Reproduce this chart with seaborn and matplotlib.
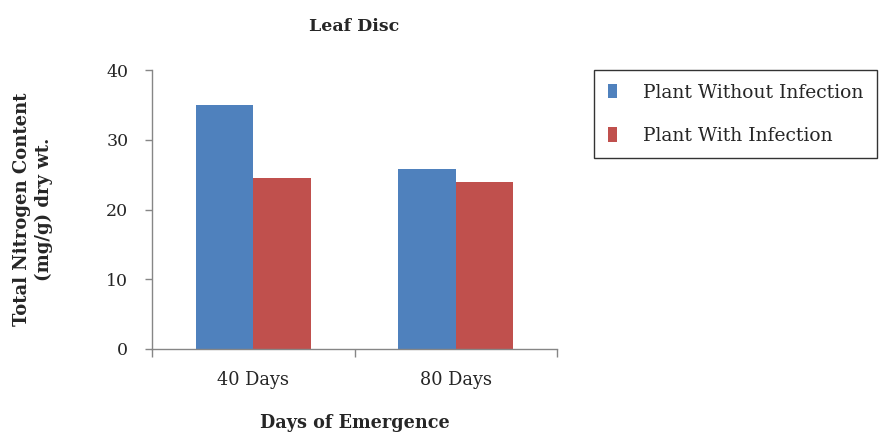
import pandas as pd
import matplotlib
matplotlib.use("Agg")
import matplotlib.pyplot as plt
import seaborn as sns

# --- data ---
days = ["40 Days", "80 Days"]
without_infection = [35.0, 25.8]
with_infection = [24.6, 24.0]
series_names = ["Plant Without Infection", "Plant With Infection"]
y_ticks = [0, 10, 20, 30, 40]

df = pd.DataFrame({
    "day": days * 2,
    "value": without_infection + with_infection,
    "series": [series_names[0]] * 2 + [series_names[1]] * 2,
})

sns.set_style("white")
plt.rcParams["font.family"] = ["DejaVu Serif"]

fig = plt.figure(figsize=(8.8, 4.33), dpi=100)
ax = fig.add_axes([0.1727, 0.194, 0.4603, 0.644])

palette = {series_names[0]: "#4f81bd", series_names[1]: "#c0504d"}
sns.barplot(data=df, x="day", y="value", hue="series", palette=palette,
            width=0.57, saturation=1, linewidth=0, ax=ax, legend=True)

ax.set_ylim(0, 40)
ax.set_xlim(-0.5, 1.5)
ax.set_yticks(y_ticks)
ax.set_yticklabels([str(t) for t in y_ticks], fontsize=12.5)

# category boundary ticks, labels sit on minor ticks
ax.set_xticks([-0.5, 0.5, 1.5])
ax.set_xticklabels(["", "", ""])
ax.set_xticks([0, 1], minor=True)
ax.set_xticklabels(days, minor=True, fontsize=12.8)
ax.tick_params(axis="x", which="major", bottom=True, length=6, width=1,
               color="#868686", direction="out")
ax.tick_params(axis="x", which="minor", bottom=True, length=0, pad=16)
ax.tick_params(axis="y", left=True, length=5, width=1, color="#868686",
               direction="out", pad=12)

for side in ["top", "right"]:
    ax.spines[side].set_visible(False)
for side in ["left", "bottom"]:
    ax.spines[side].set_color("#868686")
    ax.spines[side].set_linewidth(1.0)

ax.set_title("Leaf Disc", fontsize=12.5, fontweight="bold", pad=28)
ax.set_xlabel("Days of Emergence", fontsize=12.7, fontweight="bold", labelpad=18)
ax.set_ylabel("Total Nitrogen Content\n(mg/g) dry wt.", fontsize=13,
              fontweight="bold", labelpad=38, linespacing=1.3)

leg = ax.legend(loc="upper left", bbox_to_anchor=(1.092, 1.0), frameon=True,
                fancybox=False, edgecolor="black", fontsize=13.5,
                handlelength=0.5, handleheight=0.8, handletextpad=1.4,
                labelspacing=1.35, borderpad=0.72, borderaxespad=0)
leg.get_frame().set_linewidth(1.0)

fig.savefig("out.png", dpi=100)
